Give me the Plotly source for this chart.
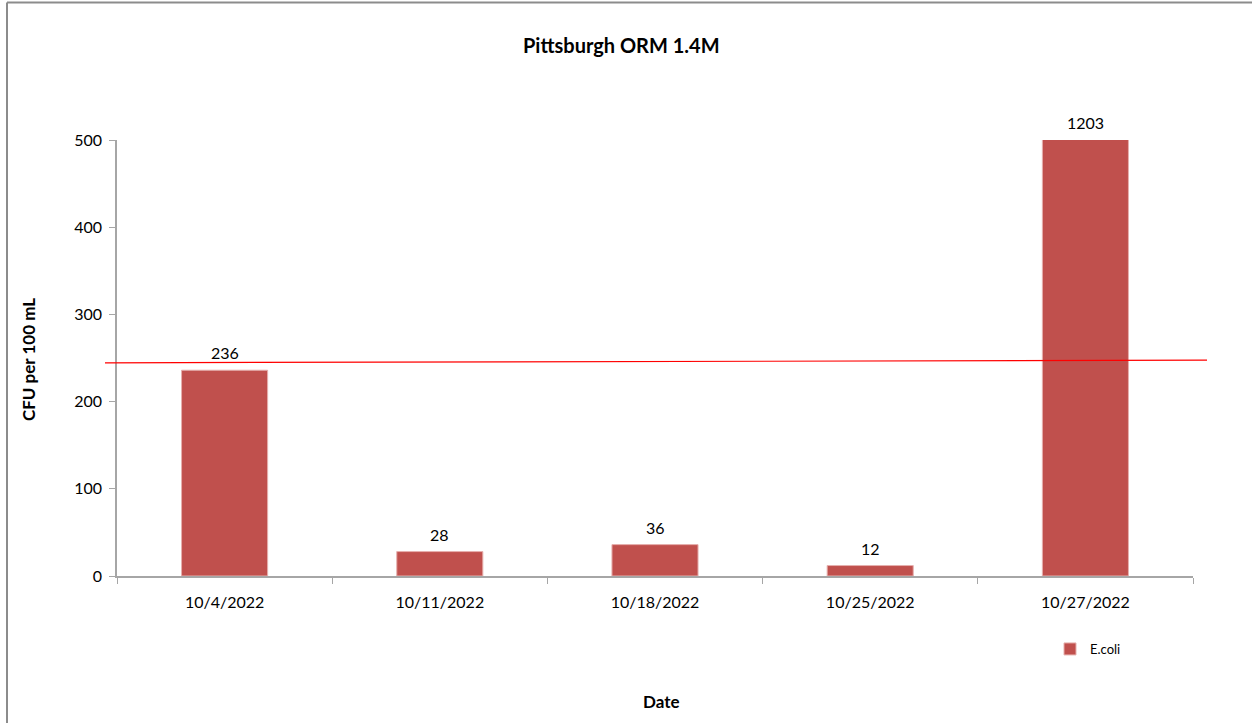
import plotly.graph_objects as go

dates = ["10/4/2022", "10/11/2022", "10/18/2022", "10/25/2022", "10/27/2022"]
ecoli = [236, 28, 36, 12, 1203]
y_ticks = [0, 100, 200, 300, 400, 500]
y_max = 500
threshold_start = 244.5
threshold_end = 247.5

FONT = "Lato"
BAR_COLOR = "#C0504D"
AXIS_COLOR = "#A6A6A6"

# plot area in page pixels: x 117..1193, y 140..576
PL, PR, PT, PB = 117, 1193, 140, 576
PW, PH = PR - PL, PB - PT


def px_x(x):
    return (x - PL) / PW


def px_y(y):
    return (PB - y) / PH


fig = go.Figure()
fig.add_trace(go.Bar(
    x=dates, y=ecoli, name="E.coli",
    marker=dict(color=BAR_COLOR, line=dict(color="#E6B0AE", width=1)),
    width=0.4, cliponaxis=True, hoverinfo="x+y",
))

# data labels (clipped bar labelled just above the plot top)
for d, v in zip(dates, ecoli):
    fig.add_annotation(x=d, y=min(v, y_max), text=str(v), showarrow=False,
                       yanchor="bottom", yshift=6,
                       font=dict(family=FONT, size=16, color="#000000"))

# threshold line (drawn across the chart)
fig.add_shape(type="line", xref="paper", yref="y",
              x0=px_x(105), x1=px_x(1207), y0=threshold_start, y1=threshold_end,
              line=dict(color="#FF0000", width=1.2), layer="above")

# outer frame (top and left edges)
fig.add_shape(type="line", xref="paper", yref="paper",
              x0=px_x(7), x1=px_x(1260), y0=px_y(2.5), y1=px_y(2.5),
              line=dict(color="#8C8C8C", width=2))
fig.add_shape(type="line", xref="paper", yref="paper",
              x0=px_x(7), x1=px_x(7), y0=px_y(730), y1=px_y(2.5),
              line=dict(color="#8C8C8C", width=2))

fig.add_annotation(xref="paper", yref="paper", x=px_x(621), y=px_y(45),
                   text="<b>Pittsburgh ORM 1.4M</b>", showarrow=False,
                   yanchor="middle", font=dict(family=FONT, size=20, color="#000000"))
fig.add_annotation(xref="paper", yref="paper", x=px_x(661), y=px_y(701),
                   text="<b>Date</b>", showarrow=False, yanchor="middle",
                   font=dict(family=FONT, size=17, color="#000000"))
fig.add_annotation(xref="paper", yref="paper", x=px_x(28), y=px_y(360),
                   text="<b>CFU per 100 mL</b>", showarrow=False, textangle=-90,
                   xanchor="center", yanchor="middle",
                   font=dict(family=FONT, size=17, color="#000000"))

fig.update_layout(
    width=1252, height=723,
    margin=dict(l=PL, r=1252 - PR, t=PT, b=723 - PB),
    paper_bgcolor="white", plot_bgcolor="white",
    showlegend=True,
    legend=dict(x=px_x(1050), y=px_y(649), xanchor="left", yanchor="middle",
                font=dict(family=FONT, size=13, color="#000000"),
                itemwidth=30, bgcolor="rgba(0,0,0,0)"),
    xaxis=dict(type="category", showline=True, linecolor=AXIS_COLOR, linewidth=1.5,
               ticks="outside", tickson="boundaries", ticklen=6, tickcolor=AXIS_COLOR,
               ticklabelstandoff=11,
               tickfont=dict(family=FONT, size=16, color="#000000"),
               showgrid=False, zeroline=False, fixedrange=True),
    yaxis=dict(range=[0, y_max], tickvals=y_ticks, showline=True, linecolor=AXIS_COLOR,
               linewidth=1.5, ticks="outside", ticklen=6, tickcolor=AXIS_COLOR,
               ticklabelstandoff=4,
               tickfont=dict(family=FONT, size=16, color="#000000"),
               showgrid=False, zeroline=False, fixedrange=True),
    bargap=0.6,
)

fig.write_html("out.html", config={"displayModeBar": False},
               post_script="document.body.style.margin='0';document.body.style.overflow='hidden';")
